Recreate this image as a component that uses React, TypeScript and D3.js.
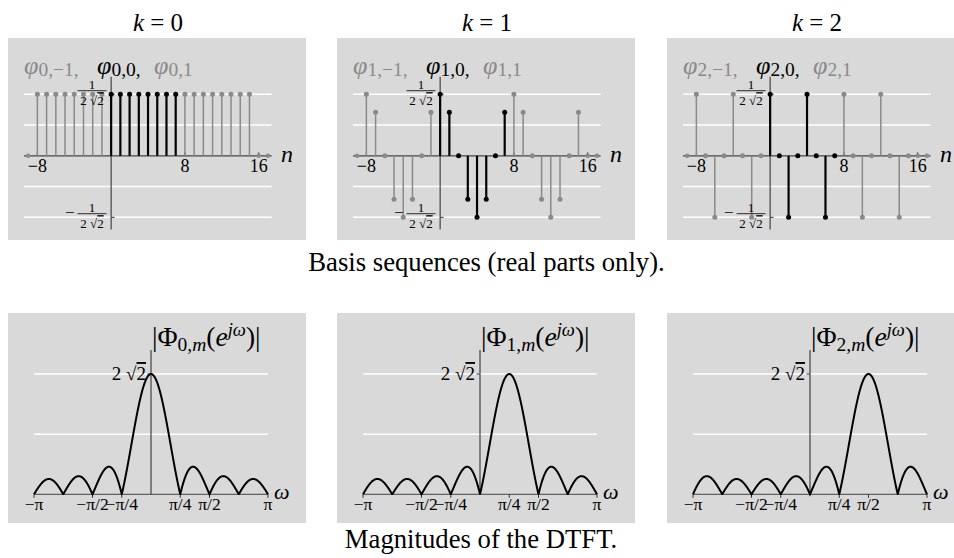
import React from "react";
import * as d3 from "d3";

const FONT = "Liberation Serif, DejaVu Serif, serif";

// ---------- data ----------
const kValues = [0, 1, 2];
const nPrev = [-8, -7, -6, -5, -4, -3, -2, -1];
const nCur = [0, 1, 2, 3, 4, 5, 6, 7];
const nNext = [8, 9, 10, 11, 12, 13, 14, 15];
const nOutside = [-9, 16, 17];
const phiK0 = [0.354, 0.354, 0.354, 0.354, 0.354, 0.354, 0.354, 0.354];
const phiK1 = [0.354, 0.25, 0, -0.25, -0.354, -0.25, 0, 0.25];
const phiK2 = [0.354, 0, -0.354, 0, 0.354, 0, -0.354, 0];
const basisValues = [phiK0, phiK1, phiK2];
const nTicks = [-8, 8, 16];
const nTickLabels = ["−8", "8", "16"];
const seqGrid = [0.354, 0.177, -0.177, -0.354];

const omegaTicks = [-Math.PI, -Math.PI / 2, -Math.PI / 4, Math.PI / 4, Math.PI / 2, Math.PI];
const omegaTickLabels = ["−π", "−π/2", "−π/4", "π/4", "π/2", "π"];
const dtftCenters = [0, Math.PI / 4, Math.PI / 2];
const dtftPeak = 2.828;
const dtftLength = 8; // zeros every 2π/8
const magGrid = [2.828, 1.414];

// ---------- layout ----------
const panelLefts = [8, 337, 667];
const PW = 298;
const TOP_Y0 = 38, TOP_Y1 = 240;
const BOT_Y0 = 313, BOT_Y1 = 523;

const GRAY = "#8a8a8a";
const BG = "#d9d9d9";

function dirichlet(w: number, c: number) {
  const x = w - c;
  const s = Math.sin(x / 2);
  if (Math.abs(s) < 1e-9) return dtftPeak;
  return dtftPeak * Math.abs(Math.sin((dtftLength * x) / 2) / (dtftLength * s));
}

function Frac({ x, y, size, neg }: { x: number; y: number; size: number; neg?: boolean }) {
  const w = 29;
  return (
    <g fontFamily={FONT} fontSize={size} fill="#000">
      {neg && (
        <text x={x - w / 2 - 3} y={y + 4.5} textAnchor="end" fontSize={size + 4}>
          −
        </text>
      )}
      <text x={x} y={y - 1.6} textAnchor="middle">1</text>
      <line x1={x - w / 2} x2={x + w / 2} y1={y} y2={y} stroke="#000" strokeWidth={0.8} />
      <text x={x} y={y + 14.5} textAnchor="middle">
        2 √<tspan textDecoration="overline">2</tspan>
      </text>
    </g>
  );
}

function SeqPanel({ k, px0 }: { k: number; px0: number }) {
  const x = d3.scaleLinear().domain([-9.45, 17.4]).range([px0 + 16, px0 + 263.6]);
  const y = d3.scaleLinear().domain([-0.354, 0.354]).range([217.3, 94.3]);
  const vals = basisValues[k];
  const ax = x(0);
  const y0 = y(0);
  const groups = [
    { ns: nPrev, color: GRAY, w: 1.5 },
    { ns: nNext, color: GRAY, w: 1.5 },
    { ns: nCur, color: "#000", w: 2.2 },
  ];
  const phiParts = [
    { sub: `${k},−1,`, dx: 16, color: GRAY },
    { sub: `${k},0,`, dx: 89, color: "#000" },
    { sub: `${k},1`, dx: 146, color: GRAY },
  ];
  return (
    <g>
      <rect x={px0} y={TOP_Y0} width={PW} height={TOP_Y1 - TOP_Y0} fill={BG} />
      <text x={px0 + 150} y={31} textAnchor="middle" fontFamily={FONT} fontSize={25}>
        <tspan fontStyle="italic">k</tspan> = {k}
      </text>
      {seqGrid.map((g) => (
        <line key={g} x1={x(-9.45)} x2={x(17.4)} y1={y(g)} y2={y(g)} stroke="#fff" strokeWidth={1.5} />
      ))}
      <line x1={x(-9.45)} x2={x(17.4)} y1={y0} y2={y0} stroke="#444" strokeWidth={1.3} />
      <line x1={ax} x2={ax} y1={y(0.455)} y2={y(-0.424)} stroke="#444" strokeWidth={1.2} />
      {nTicks.map((t) => (
        <line key={t} x1={x(t)} x2={x(t)} y1={y0} y2={y0 - 3.5} stroke="#333" strokeWidth={1} />
      ))}
      {[0.354, -0.354].map((g) => (
        <line key={g} x1={ax} x2={ax + 3.5} y1={y(g)} y2={y(g)} stroke="#333" strokeWidth={1} />
      ))}
      {nTicks.map((t, i) => (
        <text key={t} x={x(t)} y={y0 + 16.5} textAnchor="middle" fontFamily={FONT} fontSize={18}>
          {nTickLabels[i]}
        </text>
      ))}
      <text x={px0 + 273} y={y0 + 6} fontFamily={FONT} fontStyle="italic" fontSize={24}>
        n
      </text>
      {groups.map((gr, gi) =>
        gr.ns.map((n, i) => (
          <g key={`${gi}-${n}`}>
            <line x1={x(n)} x2={x(n)} y1={y0} y2={y(vals[i])} stroke={gr.color} strokeWidth={gr.w} />
            <circle cx={x(n)} cy={y(vals[i])} r={2.5} fill={gr.color} />
          </g>
        ))
      )}
      {nOutside.map((n) => (
        <circle key={n} cx={x(n)} cy={y0} r={2.3} fill={GRAY} />
      ))}
      <Frac x={px0 + 84} y={90.7} size={13} />
      <Frac x={px0 + 84} y={213.7} size={13} neg />
      {phiParts.map((p) => (
        <text key={p.dx} x={px0 + p.dx} y={73.5} fontFamily={FONT} fontSize={26} fill={p.color}>
          <tspan fontStyle="italic">φ</tspan>
          <tspan fontSize={19.5} dy={2}>{p.sub}</tspan>
        </text>
      ))}
    </g>
  );
}

function MagPanel({ k, px0 }: { k: number; px0: number }) {
  const x = d3.scaleLinear().domain([-Math.PI, Math.PI]).range([px0 + 26, px0 + 260]);
  const y = d3.scaleLinear().domain([0, dtftPeak]).range([494.3, 374]);
  const c = dtftCenters[k];
  const ws = d3.range(-Math.PI, Math.PI + 1e-9, (2 * Math.PI) / 900);
  const line = d3
    .line<number>()
    .x((w) => x(w))
    .y((w) => y(dirichlet(w, c)));
  const ax = x(0);
  const y0 = y(0);
  return (
    <g>
      <rect x={px0} y={BOT_Y0} width={PW} height={BOT_Y1 - BOT_Y0} fill={BG} />
      {magGrid.map((g) => (
        <line key={g} x1={x(-Math.PI)} x2={x(Math.PI)} y1={y(g)} y2={y(g)} stroke="#fff" strokeWidth={1.5} />
      ))}
      <line x1={x(-Math.PI)} x2={x(Math.PI)} y1={y0} y2={y0} stroke="#444" strokeWidth={1} />
      <line x1={ax} x2={ax} y1={350} y2={y0} stroke="#333" strokeWidth={1.1} />
      {omegaTicks.map((t) => (
        <line key={t} x1={x(t)} x2={x(t)} y1={y0} y2={y0 + 3.5} stroke="#333" strokeWidth={1} />
      ))}
      <line x1={ax - 3.5} x2={ax} y1={y(dtftPeak)} y2={y(dtftPeak)} stroke="#333" strokeWidth={1} />
      <path d={line(ws) || ""} fill="none" stroke="#000" strokeWidth={2} />
      {omegaTicks.map((t, i) => (
        <text key={t} x={x(t)} y={y0 + 16} textAnchor="middle" fontFamily={FONT} fontSize={17.5}>
          {omegaTickLabels[i]}
        </text>
      ))}
      <text x={px0 + 266} y={y0 + 5} fontFamily={FONT} fontStyle="italic" fontSize={22}>
        ω
      </text>
      <text x={ax - 5} y={y(dtftPeak) + 6} textAnchor="end" fontFamily={FONT} fontSize={19}>
        2 √<tspan textDecoration="overline">2</tspan>
      </text>
      <text x={ax + 1} y={346} fontFamily={FONT} fontSize={27.5}>
        |Φ<tspan fontSize={19.5} dy={5}>{k},<tspan fontStyle="italic">m</tspan></tspan>
        <tspan dy={-5}>(</tspan>
        <tspan fontStyle="italic">e</tspan>
        <tspan fontSize={18.5} dy={-10} fontStyle="italic">jω</tspan>
        <tspan dy={10}>)|</tspan>
      </text>
    </g>
  );
}

export default function App() {
  return (
    <svg
      width={954}
      height={558}
      style={{ position: "absolute", left: 0, top: 0, background: "#fff" }}
    >
      {kValues.map((k, i) => (
        <SeqPanel key={`s${k}`} k={k} px0={panelLefts[i]} />
      ))}
      <text x={486.5} y={271} textAnchor="middle" fontFamily={FONT} fontSize={26.7}>
        Basis sequences (real parts only).
      </text>
      {kValues.map((k, i) => (
        <MagPanel key={`m${k}`} k={k} px0={panelLefts[i]} />
      ))}
      <text x={481} y={548} textAnchor="middle" fontFamily={FONT} fontSize={26.7}>
        Magnitudes of the DTFT.
      </text>
    </svg>
  );
}
